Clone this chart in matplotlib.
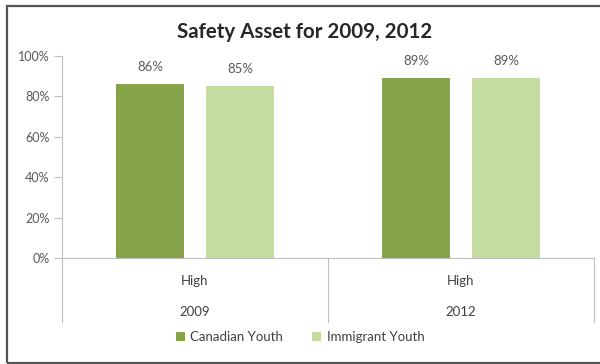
import matplotlib.pyplot as plt
from matplotlib.patches import Rectangle, Patch

plt.rcParams['font.family'] = ['Lato', 'DejaVu Sans']

years = ['2009', '2012']
level = ['High', 'High']
series = ['Canadian Youth', 'Immigrant Youth']
canadian = [86, 89]
immigrant = [85, 89]
colors = ['#86A34A', '#C5DCA0']

W, H = 600, 364
fig = plt.figure(figsize=(W / 100, H / 100), dpi=100)

# outer frame
fig.patches.append(Rectangle((7 / W, 1.5 / H), 600 / W, 357 / H, transform=fig.transFigure,
                             fill=False, edgecolor='#555555', lw=1.6))

ax = fig.add_axes([62 / W, 106 / H, 532 / W, 202 / H])
ax.set_xlim(0, 2)
ax.set_ylim(0, 100)

centers = [0.5, 1.5]
off = 0.169
bw = 0.259
for vals, dx, c, name in [(canadian, -off, colors[0], series[0]),
                          (immigrant, off, colors[1], series[1])]:
    xs = [x + dx for x in centers]
    bars = ax.bar(xs, vals, width=bw, color=c, label=name)
    for b, v in zip(bars, vals):
        ax.annotate(f'{v}%', (b.get_x() + b.get_width() / 2, v), xytext=(0, 8),
                    textcoords='offset points', ha='center', va='bottom',
                    fontsize=9.5, color='#595959')

ax.set_yticks(range(0, 101, 20))
ax.set_yticklabels([f'{t}%' for t in range(0, 101, 20)], fontsize=9, color='#595959')
ax.tick_params(axis='y', length=6, color='#bfbfbf', width=0.8, pad=3)
ax.set_xticks([])
for s in ['top', 'right']:
    ax.spines[s].set_visible(False)
for s in ['left', 'bottom']:
    ax.spines[s].set_color('#bfbfbf')
    ax.spines[s].set_linewidth(0.8)

# category separators below the axis
for x in [0, 1, 2]:
    ax.plot([x, x], [0, -31.5], color='#bfbfbf', lw=0.8, clip_on=False)

for x, lv, yr in zip(centers, level, years):
    ax.text(x, -11.5, lv, ha='center', va='center', fontsize=9.5, color='#404040')
    ax.text(x, -26.5, yr, ha='center', va='center', fontsize=9.5, color='#404040')

fig.text(305 / W, 1 - 32 / H, 'Safety Asset for 2009, 2012', ha='center', va='center',
         fontsize=14.8, fontweight='bold', color='#262626')

handles = [Patch(facecolor=c, edgecolor='none') for c in colors]
fig.legend(handles, series, loc='center', bbox_to_anchor=(300 / W, 1 - 337 / H), ncol=2,
           frameon=False, fontsize=9.5, handlelength=0.7, handleheight=0.7,
           handletextpad=0.4, columnspacing=2.2, labelcolor='#404040')

fig.savefig('out.png', dpi=100)
